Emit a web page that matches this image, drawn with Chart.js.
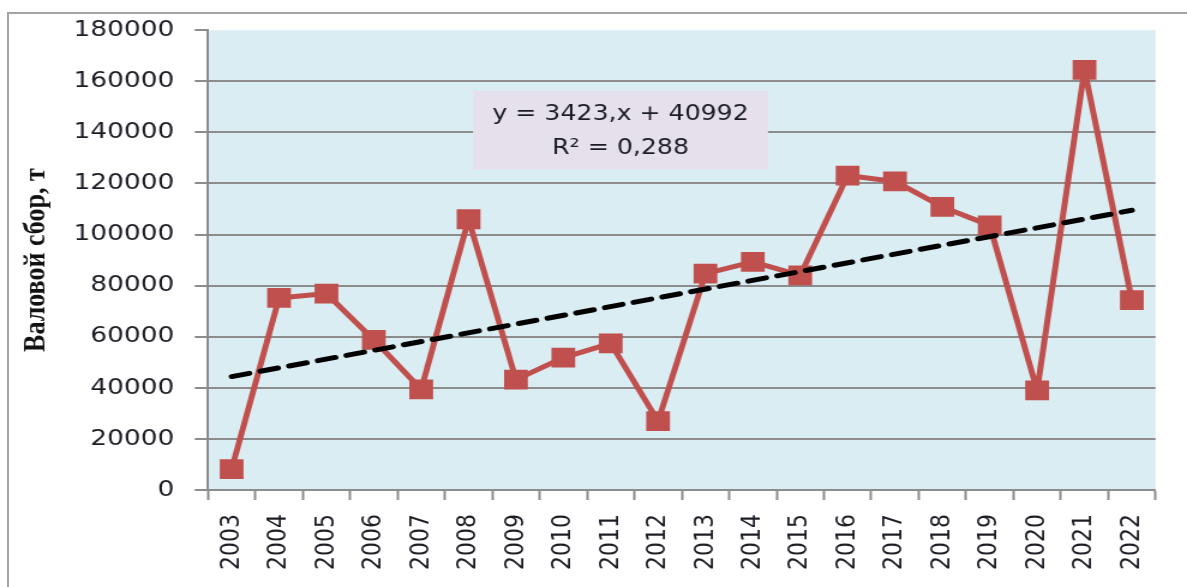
<!DOCTYPE html>
<html lang="ru">
<head>
  <meta charset="UTF-8">
  <title>Валовой сбор, т</title>
  <script src="https://cdn.jsdelivr.net/npm/chart.js"></script>
  <style>
    html, body { margin: 0; padding: 0; background: #fff; overflow: hidden; }
    #wrap { position: relative; width: 1187px; height: 587px; }
    #chart { position: absolute; left: 0; top: 0; }
    #frame { position: absolute; left: 7px; top: 12px; width: 1400px; height: 800px;
             border: 2px solid #a4a4a4; pointer-events: none; }
  </style>
</head>
<body>
  <div id="wrap">
    <!-- the source picture is stretched sideways, so the canvas is drawn narrower and scaled up -->
    <canvas id="chart" width="989" height="587" style="width:1187px;height:587px"></canvas>
    <div id="frame"></div>
  </div>

  <script>
    const years = ['2003', '2004', '2005', '2006', '2007', '2008', '2009', '2010', '2011', '2012',
                   '2013', '2014', '2015', '2016', '2017', '2018', '2019', '2020', '2021', '2022'];
    const harvest = [8200, 75200, 76900, 58800, 39400, 106000, 43200, 51800, 57400, 27000,
                     84700, 89300, 84000, 123100, 120800, 110800, 103600, 39000, 164500, 74300];
    // linear trend, read at its two ends (2003 and 2022)
    const trendEnds = [44400, 109500];
    const trendText = ['y = 3423,x + 40992', 'R\u00B2 = 0,288'];
    const yTitle = 'Валовой сбор, т';

    const trend = years.map((y, i) => i === 0 ? trendEnds[0] : (i === years.length - 1 ? trendEnds[1] : null));

    const textColor = '#1c1c24';
    const gridColor = '#8c8c8c';

    // light blue plot area and the equation box
    const plotDecor = {
      id: 'plotDecor',
      beforeDraw(chart) {
        const { ctx, chartArea: a } = chart;
        ctx.save();
        ctx.fillStyle = '#DAEDF3';
        ctx.fillRect(a.left, a.top, a.right - a.left, a.bottom - a.top);
        ctx.restore();
      },
      beforeDatasetsDraw(chart) {
        const { ctx, chartArea: a } = chart;
        const w = a.right - a.left, h = a.bottom - a.top;
        const x0 = a.left + w * 0.2797, x1 = a.left + w * 0.591;
        const y0 = a.top + h * 0.132, y1 = a.top + h * 0.303;
        ctx.save();
        ctx.fillStyle = '#E6E0EC';
        ctx.fillRect(x0, y0, x1 - x0, y1 - y0);
        ctx.fillStyle = textColor;
        ctx.font = '21px "DejaVu Sans"';
        ctx.textAlign = 'center';
        ctx.textBaseline = 'middle';
        const cx = (x0 + x1) / 2;
        ctx.fillText(trendText[0], cx, a.top + h * 0.183);
        ctx.fillText(trendText[1], cx, a.top + h * 0.257);
        ctx.restore();
      }
    };

    const ctx = document.getElementById('chart').getContext('2d');
    new Chart(ctx, {
      type: 'line',
      data: {
        labels: years,
        datasets: [
          {
            label: 'Линейный тренд',
            data: trend,
            spanGaps: true,
            borderColor: '#000000',
            borderWidth: 5,
            borderDash: [15, 9.5],
            borderCapStyle: 'round',
            pointRadius: 0,
            fill: false
          },
          {
            label: 'Валовой сбор',
            data: harvest,
            borderColor: '#C0504D',
            backgroundColor: '#C0504D',
            borderWidth: 5,
            borderJoinStyle: 'round',
            pointStyle: 'rect',
            pointRadius: 14,
            pointBorderWidth: 0,
            pointBackgroundColor: '#C0504D',
            tension: 0,
            fill: false
          }
        ]
      },
      options: {
        responsive: false,
        devicePixelRatio: 1,
        animation: false,
        layout: { padding: { left: 0, top: 28, right: 26.2, bottom: 0 } },
        plugins: {
          legend: { display: false },
          tooltip: { enabled: false }
        },
        scales: {
          x: {
            offset: true,
            afterFit: s => { s.height = 97; },
            grid: {
              offset: true,
              drawOnChartArea: false,
              drawTicks: true,
              tickLength: 10,
              tickColor: gridColor,
              tickWidth: 2
            },
            border: { color: gridColor, width: 2 },
            ticks: {
              minRotation: 90,
              maxRotation: 90,
              autoSkip: false,
              padding: 14,
              color: textColor,
              font: { family: 'DejaVu Sans', size: 22 }
            }
          },
          y: {
            min: 0,
            max: 180000,
            afterFit: s => { s.width = 173.3; },
            grid: {
              color: c => (c.tick && c.tick.value === 180000) ? 'rgba(0,0,0,0)' : gridColor,
              lineWidth: 2,
              drawTicks: true,
              tickLength: 11,
              tickColor: gridColor,
              tickWidth: 2
            },
            border: { color: gridColor, width: 2 },
            ticks: {
              stepSize: 20000,
              padding: 17,
              color: textColor,
              font: { family: 'DejaVu Sans', size: 22 },
              callback: v => String(v)
            },
            title: {
              display: true,
              text: yTitle,
              color: '#111111',
              padding: { top: 15, bottom: 0 },
              font: { family: 'Liberation Serif', size: 26, weight: 'bold' }
            }
          }
        }
      },
      plugins: [plotDecor]
    });
  </script>
</body>
</html>
